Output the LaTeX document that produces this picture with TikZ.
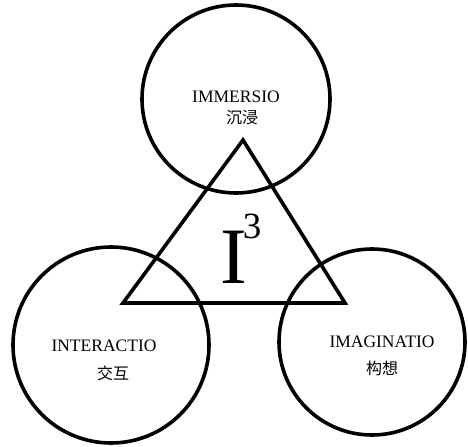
\documentclass[tikz,border=0pt]{standalone}
\usepackage{fontspec}
\setmainfont{Liberation Serif}
\newfontfamily\cjk{Noto Sans CJK SC}
\begin{document}
\begin{tikzpicture}[x=1bp,y=-1bp,
  ring/.style={circle,draw,line width=3.6bp,inner sep=0pt},
  lbl/.style={font=\fontsize{17.5bp}{19bp}\selectfont,inner sep=0pt},
  zh/.style={font=\cjk\fontsize{16bp}{18bp}\selectfont,inner sep=0pt}]
\useasboundingbox (0,0) rectangle (468,447);
\node[ring,minimum size=188bp] (top) at (236,99) {};
\node[ring,minimum size=196bp] (left) at (111,345) {};
\node[ring,minimum size=186bp] (right) at (372,342) {};
\coordinate (A) at (243,140);
\coordinate (B) at (123,303);
\coordinate (C) at (345,303);
\draw[line width=3.6bp] (A) -- (B) -- (C) -- cycle;
\node[lbl] (t1) at (236,97) {IMMERSIO};
\node[zh] (t2) at (242,118) {沉浸};
\node[lbl] (l1) at (104,346) {INTERACTIO};
\node[zh] (l2) at (113,373) {交互};
\node[lbl] (r1) at (382,342) {IMAGINATIO};
\node[zh] (r2) at (382,368) {构想};
\node[inner sep=0pt,anchor=base west,font=\fontsize{80bp}{80bp}\selectfont] (I3) at (220,283)
  {I\kern-4bp\raisebox{45bp}{\fontsize{37bp}{37bp}\selectfont 3}};
\end{tikzpicture}
\end{document}
